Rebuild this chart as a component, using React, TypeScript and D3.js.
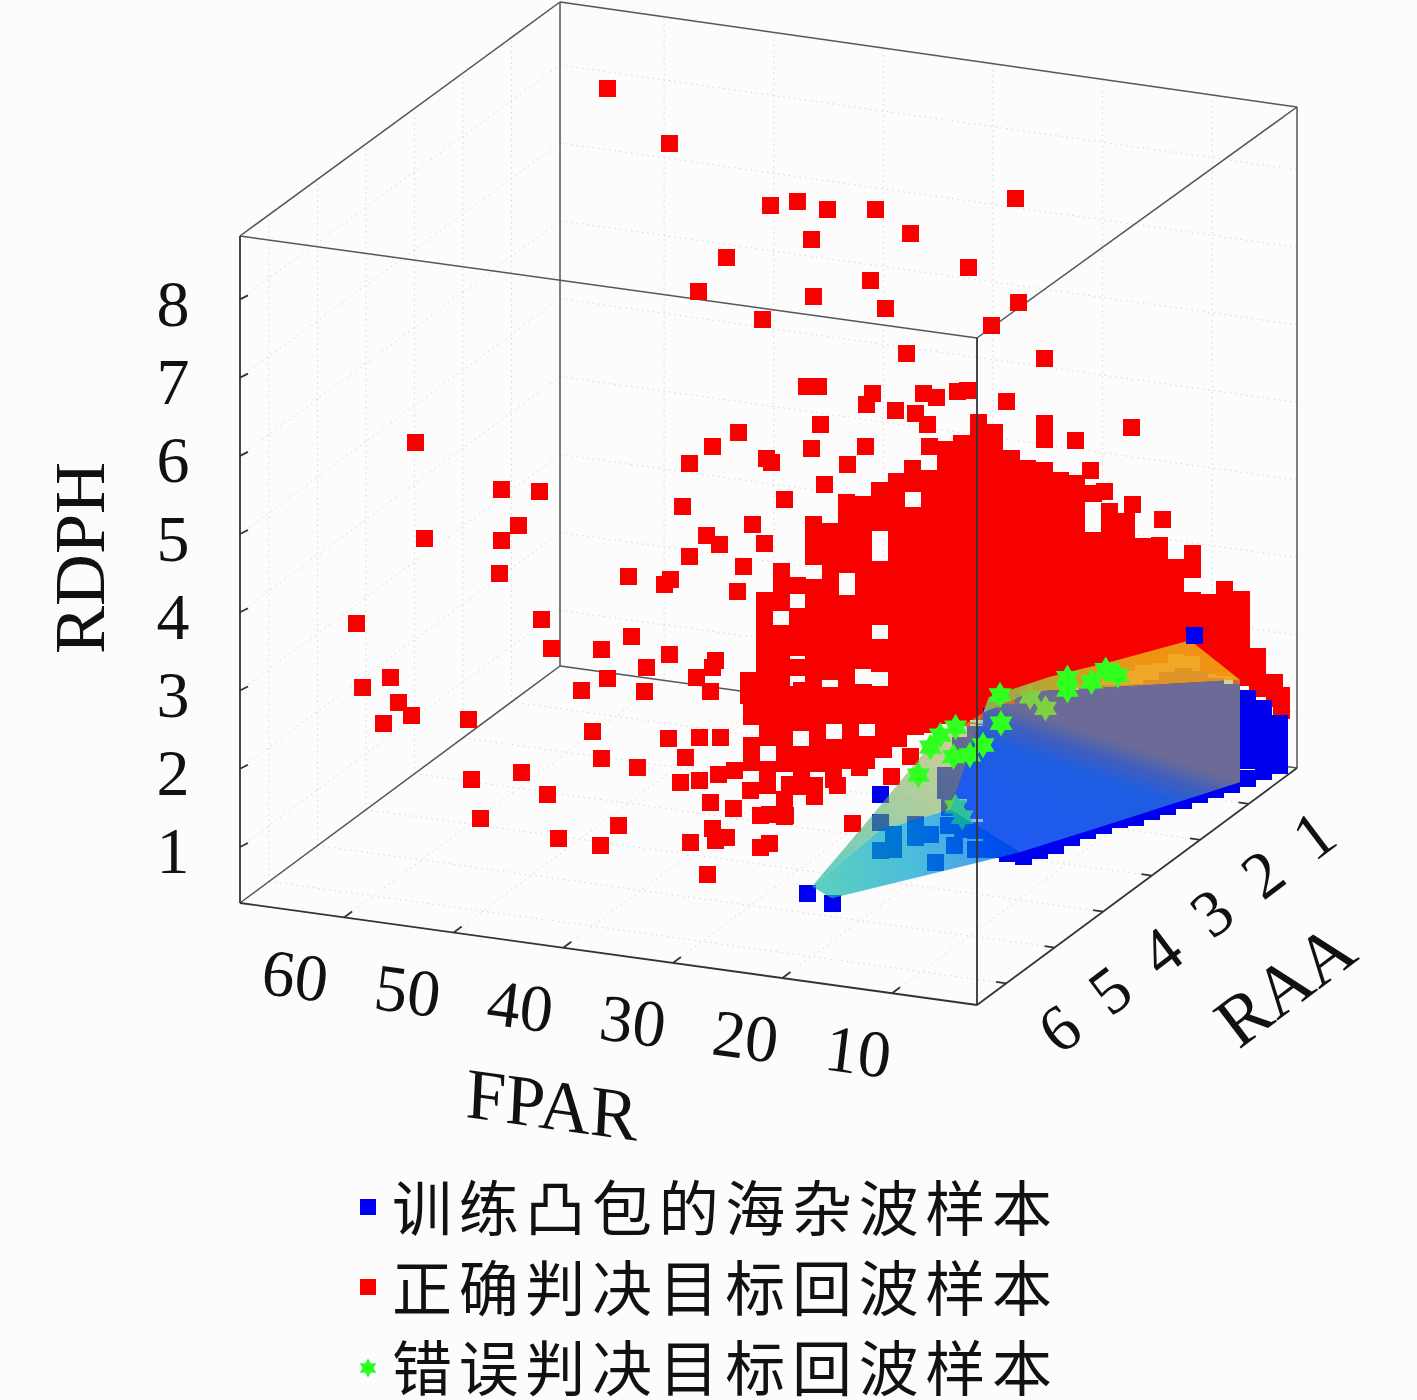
import * as d3 from 'd3';

// axis ranges
const fparDomain = [2.25, 69.5];
const raaDomain = [6.6, 0];
const rdphDomain = [0.284, 8.81];
const fparTicks = [10, 20, 30, 40, 50, 60];
const raaTicks = [1, 2, 3, 4, 5, 6];
const rdphTicks = [1, 2, 3, 4, 5, 6, 7, 8];
const legendLabels = ['训练凸包的海杂波样本', '正确判决目标回波样本', '错误判决目标回波样本'];

// scattered red samples, [FPAR, RDPH], grouped by RAA
const redRaa03: number[][] = [
  [63.8, 7.92], [58.2, 7.32], [49, 6.71], [46.5, 6.81], [43.8, 6.75], [39.4, 6.84], [36.2, 6.6], [45.2, 6.35],
  [26.6, 7.23], [53, 5.96], [30.9, 6.27], [39.8, 5.93], [55.5, 5.48], [45, 5.62], [38.5, 5.59], [26.3, 5.9],
  [49.7, 5.23], [28.8, 5.56], [36.6, 5.05], [24, 5.24], [45.7, 4.46], [44.6, 4.48], [39.7, 4.48], [40.2, 4.33],
  [35, 4.57], [33.8, 4.55], [31.9, 4.66], [31, 4.69], [27.4, 4.62], [37.6, 4.3], [35.7, 4.3], [34.6, 4.19],
  [44.4, 4], [51.9, 3.75], [54.3, 3.52], [45.2, 3.67], [40.3, 3.79], [16, 4.51], [21.1, 4.24], [56.4, 3.26],
  [49.3, 3.47], [48.9, 3.42], [41.9, 3.53], [19.8, 3.89], [44, 3.24], [47.7, 2.97], [57, 2.7], [18.5, 3.64],
  [15.9, 3.52], [13.2, 3.38], [50.6, 2.6], [56.4, 2.08], [54.8, 2.38], [53.6, 2.28], [51.4, 2.04], [49.5, 2.38],
  [61.9, 1.71], [58.1, 1.75], [58.6, 1.68], [52, 1.71],
];
const redRaa33: number[][] = [
  [51.1, 2.37], [48.4, 2.58], [52.9, 1.81], [50.6, 2], [47, 2.21], [47.2, 1.9], [44.9, 2.42], [42.4, 2.18],
  [40.7, 2.43], [41, 2.33], [41.2, 2.02], [51.9, 1.3], [45, 1.35], [51.1, 0.97], [47.8, 0.92],
];
const redRaa53: number[][] = [
  [59.2, 5.77], [51.4, 5.32], [47.9, 5.36], [49.8, 4.89], [51.4, 4.67], [58.4, 4.56], [51.6, 4.24], [64.6, 3.35],
  [47.7, 3.74], [46.8, 3.38], [61.5, 2.73], [64.1, 2.55], [60.8, 2.42], [59.6, 2.28], [62.2, 2.12], [54.4, 2.33],
  [54.1, 1.57], [49.6, 1.74], [47.2, 1.51], [53.3, 1.08], [46.2, 0.96], [40.7, 1.24], [42.4, 0.95], [34.1, 1.15],
  [31.9, 1.22], [30.9, 1.27], [32.6, 0.77], [27.8, 1.2], [26.9, 1.28], [32.3, 1.69], [30.2, 1.66], [32.1, 1.37],
  [19.4, 1.67], [27.8, 1.62], [26.9, 1.64], [25.5, 1.66], [35.1, 1.89], [33.3, 1.96], [31.6, 2.06], [30.1, 2.15],
  [34.6, 2.22], [33.3, 2.5], [31.4, 2.54], [28.7, 1.92], [25.1, 2.06], [22.8, 2.1], [22.8, 1.95], [20.7, 2.14],
  [15.8, 2.35], [14.1, 2.64], [18.7, 2.4],
];

// the dense red mass, one FPAR value per row with its RDPH readings (RAA 0.3)
const redDenseFar: [number, number[]][] = [
  [2.3, [1.35, 1.15]],
  [3, [1.5, 1.3]],
  [4.5, [1.8, 1.6, 1.4]],
  [6, [2.5, 2.3, 2.1, 1.9, 1.7, 1.5]],
  [7.5, [2.6, 2.4, 2.2, 2, 1.8, 1.6]],
  [9, [2.4, 2.2, 2, 1.8, 1.6]],
  [10.5, [3, 2.8, 2.4, 2.2, 2, 1.8]],
  [12, [2.8, 2.6, 2.4, 2.2, 2, 1.8]],
  [13.5, [3.05, 2.85, 2.65, 2.45, 2.25, 2.05, 1.85, 1.65]],
  [15, [3, 2.8, 2.6, 2.4, 2.2, 2, 1.8, 1.6]],
  [16.5, [3.3, 3.1, 2.9, 2.7, 2.5, 2.3, 2.1, 1.9, 1.7, 1.5]],
  [18, [3.4, 3.2, 3, 2.8, 2.6, 2.4, 2.2, 2, 1.8, 1.6, 1.4]],
  [19.5, [3.6, 3, 2.8, 2.6, 2.4, 2.2, 2, 1.8, 1.6, 1.4, 1.3]],
  [21, [3.7, 3.5, 3.3, 3.1, 2.9, 2.7, 2.5, 2.3, 2.1, 1.9, 1.7, 1.5, 1.3, 1.2]],
  [22.5, [3.7, 3.5, 3.3, 3.1, 2.9, 2.7, 2.5, 2.3, 2.1, 1.9, 1.7, 1.5, 1.3, 1.1]],
  [24, [4.4, 4.2, 3.8, 3.6, 3.4, 3.2, 3, 2.8, 2.6, 2.4, 2.2, 2, 1.8, 1.6, 1.4, 1.2, 1]],
  [25.5, [3.8, 3.6, 3.4, 3.2, 3, 2.8, 2.6, 2.4, 2.2, 2, 1.8, 1.6, 1.4, 1.2, 1, 0.9]],
  [27, [3.9, 3.7, 3.5, 3.3, 3.1, 2.9, 2.7, 2.5, 2.3, 2.1, 1.9, 1.7, 1.5, 1.3, 1.1, 0.9, 0.8]],
  [28.5, [4.2, 4, 3.8, 3.6, 3.4, 3.2, 3, 2.8, 2.6, 2.4, 2.2, 2, 1.8, 1.6, 1.4, 1.2, 1, 0.8, 0.7]],
  [30, [4.3, 4.1, 3.9, 3.7, 3.5, 3.3, 3.1, 2.9, 2.7, 2.5, 2.3, 2.1, 1.9, 1.7, 1.5, 1.3, 1.1, 0.9, 0.7, 0.6]],
  [31.5, [4, 3.8, 3.6, 3.4, 3.2, 3, 2.8, 2.6, 2.4, 2.2, 2, 1.8, 1.6, 1.4, 1.2, 1, 0.8, 0.6, 0.5]],
  [33, [3.9, 3.7, 3.5, 3.3, 3.1, 2.9, 2.7, 2.5, 2.3, 2.1, 1.9, 1.7, 1.5, 1.3, 1.1, 0.9, 0.7, 0.5]],
  [34.5, [3.9, 3.5, 3.3, 3.1, 2.9, 2.7, 2.5, 2.3, 2.1, 1.9, 1.7, 1.5, 1.3, 1.1, 0.9, 0.7, 0.5, 0.35]],
  [36, [3.6, 3.4, 3, 2.8, 2.6, 2.4, 2.2, 2, 1.8, 1.6, 1.4, 1.2, 1, 0.8, 0.6, 0.35]],
  [37.5, [3.4, 3.2, 3, 2.8, 2.6, 2.4, 2.2, 2, 1.8, 1.6, 1.4, 1.2, 1, 0.8, 0.6, 0.35]],
  [39, [3.25, 3.05, 2.85, 2.25, 2.05, 1.85, 1.65, 1.25, 1.05, 0.65, 0.45]],
  [40.5, [3.05, 2.85, 2.65, 2.45, 2.25, 2.05, 1.85, 1.65, 1.45, 1.25, 1.05, 0.65, 0.45]],
  [42, [3.05, 2.85, 2.65, 2.45, 2.25, 1.75, 1.55, 1.35, 1.15, 0.95, 0.75, 0.55, 0.35]],
  [43.5, [2.65, 2.45, 2.25, 2.05, 1.85, 1.65, 1.45, 1.25, 1.05, 0.85, 0.55, 0.35]],
  [45, [2.7, 2.5, 2.3, 1.9, 1.7, 1.5, 1.3, 1.1, 0.9, 0.7, 0.5, 0.3]],
  [46.5, [1.9, 1.5, 1.3, 1.1, 0.85, 0.5, 0.3]],
  [48, [2.05, 1.85, 1.65, 1.25, 1.05, 0.85, 0.65, 0.45]],
  [49.5, [1.65, 1.45, 1.25, 1.05, 0.85, 0.65, 0.45]],
  [51, [0.6, 0.4]],
];

// lower part of the mass (RAA 3.3)
const redDenseMid: [number, number[]][] = [
  [37.4, [1.99, 1.78, 1.4, 1.19]],
  [36, [2.14, 1.94, 1.73, 1.53, 1.12, 0.92]],
  [34.4, [2.05, 1.84, 1.64, 1.43, 1.23, 0.77, 0.56]],
  [32.9, [2.2, 2, 1.79, 1.38, 1.18, 0.97]],
  [31.4, [2.1, 1.9, 1.69, 1.49, 1.29]],
  [29.9, [2.13, 1.93, 1.52, 1.31, 1.11]],
  [28.4, [2.22, 2.02, 1.81, 1.61, 1.39]],
  [26.9, [2.19, 1.99, 1.62, 1.42]],
  [25.4, [2.22, 2.01, 1.81, 1.58]],
  [24, [2.38, 2.17, 1.97, 1.76]],
  [22.5, [2.4, 2.2, 1.94]],
  [21, [2.43, 2.22, 1.99]],
];

// blue training samples: RAA with its RDPH readings at FPAR 2.5
const blueDense: [number, number[]][] = [
  [6.24, [3.8, 3.6, 3.4, 3.2, 3, 2.8, 2.6, 2.4, 2.2, 2.1]],
  [5.91, [3.7, 3.5, 3.3, 3.1, 2.9, 2.7, 2.5, 2.3, 2.1, 1.9]],
  [5.58, [3.67, 3.47, 3.27, 3.07, 2.87, 2.67, 2.47, 2.27, 2.07, 1.87, 1.71]],
  [5.25, [3.56, 3.36, 3.16, 2.96, 2.76, 2.56, 2.36, 2.16, 1.96, 1.76, 1.64]],
  [4.92, [3.43, 3.23, 3.03, 2.83, 2.63, 2.43, 2.23, 2.03, 1.83, 1.63, 1.55]],
  [4.59, [3.28, 3.08, 2.88, 2.68, 2.48, 2.28, 2.08, 1.88, 1.68, 1.5]],
  [4.26, [3.15, 2.95, 2.75, 2.55, 2.35, 2.15, 1.95, 1.75, 1.55, 1.44]],
  [3.93, [3.03, 2.83, 2.63, 2.43, 2.23, 2.03, 1.83, 1.63, 1.43, 1.35]],
  [3.6, [2.89, 2.69, 2.49, 2.29, 2.09, 1.89, 1.69, 1.49, 1.38, 1.27]],
  [3.27, [2.75, 2.55, 2.35, 2.15, 1.95, 1.75, 1.55, 1.35, 1.15]],
  [2.94, [2.65, 2.45, 2.25, 2.05, 1.85, 1.65, 1.45, 1.25, 1.07]],
  [2.61, [2.6, 2.4, 2.2, 2, 1.8, 1.6, 1.4, 1.2, 0.98]],
  [2.28, [2.5, 2.3, 2.1, 1.9, 1.7, 1.5, 1.3, 1.1, 0.91]],
  [1.95, [2.3, 2.1, 1.9, 1.7, 1.5, 1.3, 1.1, 0.95, 0.83]],
  [1.62, [2.07, 1.87, 1.67, 1.47, 1.27, 1.07, 0.87, 0.75]],
  [1.29, [1.84, 1.64, 1.44, 1.24, 1.04, 0.84, 0.66]],
  [0.96, [1.61, 1.41, 1.21, 1.01, 0.81, 0.59]],
  [0.63, [1.33, 1.13, 0.93, 0.73, 0.52]],
  [0.3, [0.99, 0.79, 0.59, 0.45]],
];
// blue points further out: [RAA, RDPH] at FPAR 16 and FPAR 22
const blueFpar16: number[][] = [
  [4.35, 0.8], [3, 1.35], [4.76, 1.32], [4.06, 1.38], [3.96, 0.85], [3.8, 1.48], [3.36, 1.45], [5.22, 1.56],
  [5.22, 1.37], [4.76, 1.48], [4.45, 1.21], [4.08, 1.16], [3.8, 1.22], [3.8, 0.97], [3.53, 0.59], [3.53, 0.84],
  [3.53, 1.1], [3.53, 1.29], [3.84, 2.07], [3.84, 1.88], [3.84, 1.69], [3.53, 2.06], [3.53, 1.87], [3.53, 1.68],
  [3.53, 1.48], [4.15, 1.83], [4.15, 1.64],
];
const blueFpar22: number[][] = [[5.64, 0.89], [5.11, 0.52], [4.12, 1.45], [4.12, 1.09], [4.12, 0.74]];
const blueApex = [2.5, 2.05, 2.92];

// green samples at RAA 3.3: [FPAR, RDPH]
const greenUnder: number[][] = [[12, 2.52], [10.6, 2.4], [18.8, 0.98], [18.2, 0.86]];
const greenTop: number[][] = [
  [14.75, 2.49], [14.66, 2.13], [16.3, 1.82], [18.8, 2], [21.1, 1.7], [19, 1.62], [22.2, 1.32], [8.6, 2.83],
  [8.6, 2.67], [5.1, 3], [6.4, 2.82], [4, 2.95], [20.2, 1.87], [17.5, 1.67],
];

// convex hull faces as [FPAR, RAA, RDPH] corners
const hullMain: number[][] = [
  [16, 4.04, 1.34], [2.5, 5.66, 1.8], [2.5, 4, 1.36], [2.5, 1.12, 0.61], [2.5, 1.12, 1.92],
  [2.5, 3.27, 2.83], [2.5, 5.39, 3.73], [2.5, 6.42, 3.93],
];
const hullLeft: number[][] = [
  [22, 5.54, 0.93], [22, 4.32, 1.26], [22, 3.13, 1.61], [2.5, 6.42, 3.93], [16, 4.04, 1.34], [22, 4.14, 1.01],
];
const hullBand: number[][] = [
  [2.5, 6.3, 4.08], [2.5, 5.04, 3.76], [2.5, 3.64, 3.33], [2.5, 2.15, 2.9], [2.5, 1.12, 1.92],
  [2.5, 3.27, 2.83], [2.5, 5.39, 3.73], [2.5, 6.42, 3.93],
];
const hullTip: number[][] = [
  [22, 5.54, 0.93], [22, 5.13, 0.59], [2.5, 5.66, 1.8], [16, 4.04, 1.34], [22, 4.14, 1.01],
];

const a = d3.scaleLinear(fparDomain, [0, 1]);
const b = d3.scaleLinear(raaDomain, [0, 1]);
const c = d3.scaleLinear(rdphDomain, [0, 1]);

// oblique view of the box: front bottom corner and the three edge vectors
const project = (f: number, r: number, z: number): [number, number] => [
  977 - 737 * a(f) + 320 * b(r),
  1005 - 102 * a(f) - 237 * b(r) - 667 * c(z),
];
// the box itself has a little perspective, the back edges come out shorter
const projectBox = (f: number, r: number, z: number): [number, number] => [
  977 - 737 * a(f) + 320 * b(r),
  1005 - 102 * a(f) - 237 * b(r) - (667 - 6 * b(r) + 3 * a(f) * b(r)) * c(z),
];

const [fMin, fMax] = fparDomain;
const [rMax, rMin] = raaDomain;
const [zMin, zMax] = rdphDomain;
const line = d3.line();
const seg = (p: [number, number, number], q: [number, number, number]) =>
  line([projectBox(p[0], p[1], p[2]), projectBox(q[0], q[1], q[2])]) ?? '';
const poly = (pts: number[][]) => (line(pts.map(p => project(p[0], p[1], p[2]))) ?? '') + 'Z';

const redPositions: [number, number][] = [
  ...redRaa03.map(p => project(p[0], 0.3, p[1])),
  ...redRaa33.map(p => project(p[0], 3.3, p[1])),
  ...redRaa53.map(p => project(p[0], 5.3, p[1])),
  ...redDenseFar.flatMap(([f, zs]) => zs.map(z => project(f, 0.3, z))),
  ...redDenseMid.flatMap(([f, zs]) => zs.map(z => project(f, 3.3, z))),
];
const bluePositions: [number, number][] = [
  ...blueDense.flatMap(([r, zs]) => zs.map(z => project(2.5, r, z))),
  ...blueFpar16.map(p => project(16, p[0], p[1])),
  ...blueFpar22.map(p => project(22, p[0], p[1])),
];

const serif = '"Liberation Serif", "DejaVu Serif", serif';
const markerSize = 17;
const red = '#f80000';
const blue = '#0000f0';
const green = '#30ff20';

const Square = ({ p, fill, size = markerSize }: { p: [number, number], fill: string, size?: number }) =>
  <rect x={Math.round(p[0] - size / 2)} y={Math.round(p[1] - size / 2)} width={size} height={size} fill={fill} shapeRendering="crispEdges" />;

// hexagram marker: two opposed triangles
const Hexagram = ({ p, area = 230 }: { p: [number, number], area?: number }) => {
  const tri = d3.symbol(d3.symbolTriangle, area)() ?? '';
  return (
    <g transform={`translate(${p[0]},${p[1]})`} fill={green}>
      <path d={tri} />
      <path d={tri} transform="rotate(180)" />
    </g>
  );
};

export default function App() {
  const gridLines: string[] = [
    ...fparTicks.flatMap(f => [
      seg([f, rMax, zMin], [f, rMin, zMin]),
      seg([f, rMin, zMin], [f, rMin, zMax]),
    ]),
    ...raaTicks.flatMap(r => [
      seg([fMin, r, zMin], [fMax, r, zMin]),
      seg([fMax, r, zMin], [fMax, r, zMax]),
    ]),
    ...rdphTicks.flatMap(z => [
      seg([fMax, rMax, z], [fMax, rMin, z]),
      seg([fMax, rMin, z], [fMin, rMin, z]),
    ]),
  ];
  const backEdges = [
    seg([fMax, rMin, zMin], [fMax, rMin, zMax]),
    seg([fMax, rMin, zMin], [fMax, rMax, zMin]),
    seg([fMax, rMin, zMin], [fMin, rMin, zMin]),
    seg([fMin, rMin, zMin], [fMin, rMin, zMax]),
    seg([fMax, rMax, zMax], [fMax, rMin, zMax]),
    seg([fMax, rMin, zMax], [fMin, rMin, zMax]),
    seg([fMin, rMin, zMax], [fMin, rMax, zMax]),
    seg([fMin, rMax, zMax], [fMax, rMax, zMax]),
  ];
  const frontEdges = [
    seg([fMin, rMax, zMin], [fMin, rMax, zMax]),
    seg([fMax, rMax, zMin], [fMax, rMax, zMax]),
    seg([fMin, rMax, zMin], [fMax, rMax, zMin]),
    seg([fMin, rMax, zMin], [fMin, rMin, zMin]),
  ];

  return (
    <svg width={1417} height={1400} viewBox="0 0 1417 1400"
      style={{ position: 'absolute', left: 0, top: 0, background: '#fcfcfc' }}>
      <defs>
        <linearGradient id="hullMainFill" gradientUnits="userSpaceOnUse" x1={1100} y1={835} x2={1148} y2={690}>
          <stop offset="0" stopColor="rgb(50,150,235)" />
          <stop offset="0.35" stopColor="rgb(50,155,215)" />
          <stop offset="0.5" stopColor="rgb(110,160,150)" />
          <stop offset="0.62" stopColor="rgb(180,177,90)" />
          <stop offset="1" stopColor="rgb(180,177,90)" />
        </linearGradient>
        <linearGradient id="hullLeftFill" gradientUnits="userSpaceOnUse" x1={835} y1={880} x2={960} y2={735}>
          <stop offset="0" stopColor="rgb(0,177,150)" />
          <stop offset="0.5" stopColor="rgb(110,175,100)" />
          <stop offset="1" stopColor="rgb(175,175,85)" />
        </linearGradient>
        <linearGradient id="hullTipFill" gradientUnits="userSpaceOnUse" x1={820} y1={890} x2={1000} y2={850}>
          <stop offset="0" stopColor="rgb(26,188,165)" />
          <stop offset="0.5" stopColor="rgb(0,165,205)" />
          <stop offset="1" stopColor="rgb(0,110,235)" />
        </linearGradient>
        <linearGradient id="hullBandFill" gradientUnits="userSpaceOnUse" x1={985} y1={700} x2={1140} y2={660}>
          <stop offset="0" stopColor="rgb(130,190,90)" />
          <stop offset="0.55" stopColor="rgb(200,175,40)" />
          <stop offset="1" stopColor="rgb(240,160,20)" />
        </linearGradient>
      </defs>

      <g fill="none" stroke="#d6d6d6" strokeWidth={1} strokeDasharray="1.5 4">
        {gridLines.map((d, i) => <path key={i} d={d} />)}
      </g>
      <g fill="none" stroke="#555" strokeWidth={1.5}>
        {backEdges.map((d, i) => <path key={i} d={d} />)}
      </g>

      {redPositions.map((p, i) => <Square key={i} p={p} fill={red} />)}
      {bluePositions.map((p, i) => <Square key={i} p={p} fill={blue} />)}
      {greenUnder.map((p, i) => <Hexagram key={i} p={project(p[0], 3.3, p[1])} />)}

      <path d={poly(hullMain)} fill="url(#hullMainFill)" fillOpacity={0.6} />
      <path d={poly(hullLeft)} fill="url(#hullLeftFill)" fillOpacity={0.6} />
      <path d={poly(hullTip)} fill="url(#hullTipFill)" fillOpacity={0.7} />
      <path d={poly(hullBand)} fill="url(#hullBandFill)" fillOpacity={0.92} />

      <Square p={project(blueApex[0], blueApex[1], blueApex[2])} fill={blue} />
      {greenTop.map((p, i) => <Hexagram key={i} p={project(p[0], 3.3, p[1])} />)}

      <g fill="none" stroke="#333" strokeWidth={1.8}>
        {frontEdges.map((d, i) => <path key={i} d={d} />)}
        {fparTicks.map(f => {
          const [x, y] = project(f, rMax, zMin);
          return <path key={f} d={line([[x, y], [x + 8, y - 6]]) ?? ''} />;
        })}
        {raaTicks.map(r => {
          const [x, y] = project(fMin, r, zMin);
          return <path key={r} d={line([[x, y], [x - 10, y - 1.5]]) ?? ''} />;
        })}
        {rdphTicks.map(z => {
          const [x, y] = project(fMax, rMax, z);
          return <path key={z} d={line([[x, y], [x + 8, y - 4]]) ?? ''} />;
        })}
      </g>

      <g fontFamily={serif} fontSize={66} fill="#111" textAnchor="middle" dominantBaseline="central">
        {rdphTicks.map(z => {
          const [, y] = project(fMax, rMax, z);
          return <text key={z} x={173} y={y + 4}>{z}</text>;
        })}
        {fparTicks.map(f => {
          const [x, y] = project(f, rMax, zMin);
          return <text key={f} transform={`translate(${x - 49 + (60 - f) * 0.3},${y + 58}) matrix(0.99,0.137,-0.12,1,0,0)`}>{f}</text>;
        })}
        {raaTicks.map(r => {
          const [x, y] = project(fMin, r, zMin);
          return <text key={r} transform={`translate(${x + 53 + (6 - r) * 2.4},${y + 45 - (6 - r) * 2.8}) rotate(-37)`}>{r}</text>;
        })}
      </g>
      <g fontFamily={serif} fontSize={72} fill="#111" textAnchor="middle" dominantBaseline="central">
        <text transform="translate(80,558) rotate(-90)">RDPH</text>
        <text transform="translate(552,1105) matrix(0.99,0.137,-0.05,1,0,0)">FPAR</text>
        <text transform="translate(1285,985) rotate(-37)">RAA</text>
      </g>

      <Square p={[368, 1207]} fill={blue} size={16} />
      <Square p={[368, 1287]} fill={red} size={16} />
      <Hexagram p={[368, 1368]} area={120} />
      <g fontFamily={'"Noto Sans CJK SC", sans-serif'} fontSize={60} fontWeight={400} fill="#111" dominantBaseline="central">
        {legendLabels.map((t, i) => (
          <text key={t} x={392} y={1204 + i * 80} textLength={660} lengthAdjust="spacing">{t}</text>
        ))}
      </g>
    </svg>
  );
}
